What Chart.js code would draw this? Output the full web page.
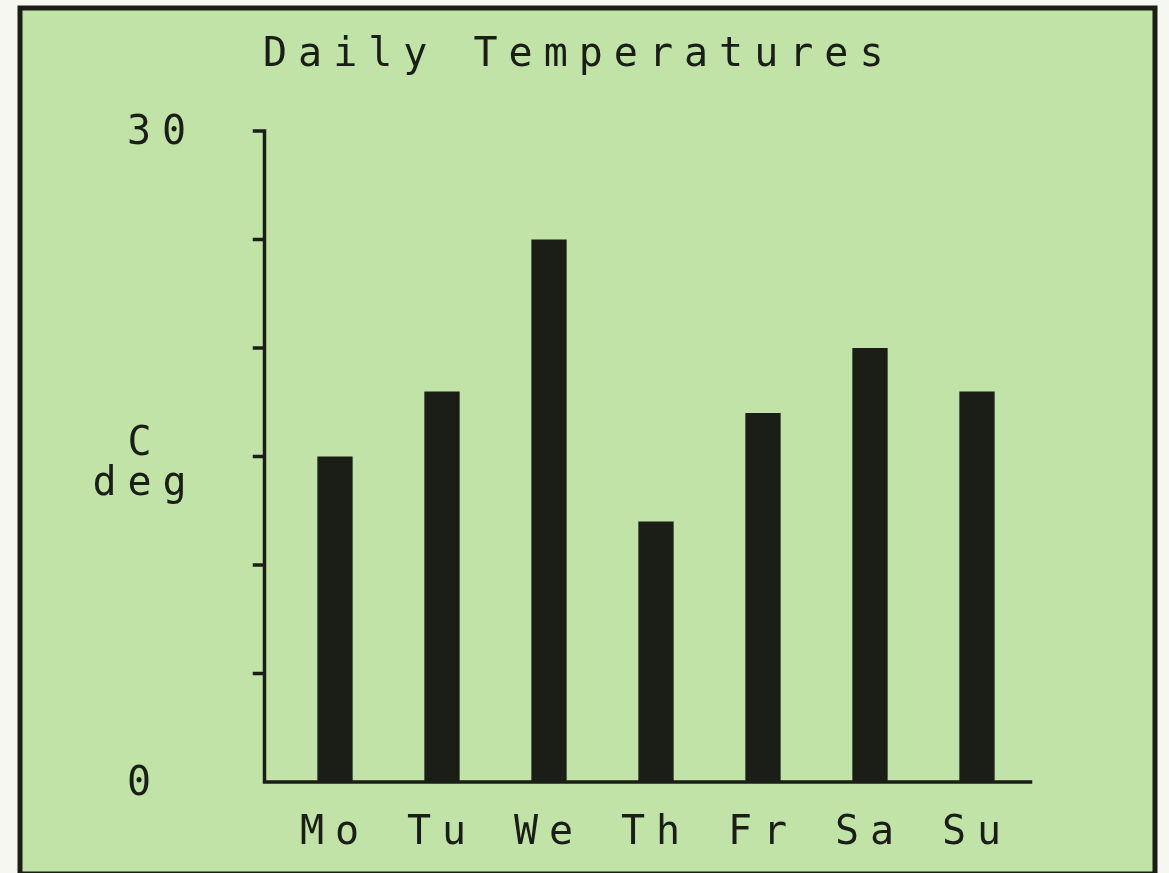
<!DOCTYPE html>
<html>
<head>
<meta charset="utf-8">
<title>Daily Temperatures</title>
<script src="https://cdn.jsdelivr.net/npm/chart.js@4/dist/chart.umd.min.js"></script>
<style>
  html, body { margin: 0; padding: 0; background: #f7f7f2; }
  canvas { display: block; }
</style>
</head>
<body>
<canvas id="tempChart" width="1169" height="873"></canvas>
<script>
// données
const days = ['Mo', 'Tu', 'We', 'Th', 'Fr', 'Sa', 'Su'];
const temps = [15, 18, 25, 12, 17, 20, 18];
const yTicks = [0, 5, 10, 15, 20, 25, 30];
const yLabelled = [0, 30];
const unitLines = ['C', 'deg'];

const INK = '#1a1e17';
const GREEN = '#c1e3a8';
const FONT = '"DejaVu Sans Mono", monospace';
const SPACING = '11px';

// cadre, axes et unité façon écran rétro
const retro = {
    id: 'retro',
    beforeLayout(chart) {
        chart.ctx.letterSpacing = SPACING;
    },
    beforeDraw(chart) {
        const ctx = chart.ctx;
        ctx.save();
        ctx.fillStyle = '#f7f7f2';
        ctx.fillRect(0, 0, chart.width, chart.height);
        ctx.fillStyle = GREEN;
        ctx.fillRect(20, 8, 1135, 866);
        ctx.lineWidth = 5;
        ctx.strokeStyle = INK;
        ctx.strokeRect(20, 8, 1135, 866);
        ctx.restore();
        ctx.letterSpacing = SPACING;
    },
    afterDatasetsDraw(chart) {
        const ctx = chart.ctx;
        const y = chart.scales.y;
        const area = chart.chartArea;
        const axisX = area.left - 17;
        const y0 = y.getPixelForValue(0);

        ctx.save();
        ctx.strokeStyle = INK;
        ctx.lineWidth = 3.5;
        ctx.lineCap = 'square';
        ctx.beginPath();
        ctx.moveTo(axisX, y.getPixelForValue(yTicks[yTicks.length - 1]));
        ctx.lineTo(axisX, y0);
        ctx.lineTo(area.right, y0);
        yTicks.filter(v => v > 0).forEach(v => {
            const py = y.getPixelForValue(v);
            ctx.moveTo(axisX - 10, py);
            ctx.lineTo(axisX, py);
        });
        ctx.stroke();

        ctx.letterSpacing = SPACING;
        ctx.fillStyle = INK;
        ctx.font = '40px ' + FONT;
        ctx.textAlign = 'center';
        ctx.textBaseline = 'alphabetic';
        const mid = y.getPixelForValue(15);
        ctx.fillText(unitLines[0], 145, mid - 2);
        ctx.fillText(unitLines[1], 145, mid + 38);
        ctx.restore();
    }
};

new Chart(document.getElementById('tempChart'), {
    type: 'bar',
    data: {
        labels: days,
        datasets: [{
            data: temps,
            backgroundColor: INK,
            borderWidth: 0,
            categoryPercentage: 1,
            barPercentage: 0.33
        }]
    },
    options: {
        responsive: false,
        animation: false,
        layout: {
            padding: { top: 10, left: 127, right: 138.5, bottom: 20 }
        },
        plugins: {
            legend: { display: false },
            tooltip: { enabled: false },
            title: {
                display: true,
                text: 'Daily Temperatures',
                color: INK,
                font: { family: FONT, size: 40, weight: 'normal', lineHeight: 1 },
                padding: { top: 26, bottom: 55 }
            }
        },
        scales: {
            x: {
                grid: { display: false, drawTicks: false },
                border: { display: false },
                afterFit(scale) { scale.height = 71; },
                ticks: {
                    color: INK,
                    padding: 32,
                    font: { family: FONT, size: 40, lineHeight: 1 }
                }
            },
            y: {
                min: 0,
                max: 30,
                grid: { display: false, drawTicks: false },
                border: { display: false },
                afterFit(scale) { scale.width = 154.5; },
                afterBuildTicks(scale) { scale.ticks = yTicks.map(v => ({ value: v })); },
                ticks: {
                    color: INK,
                    crossAlign: 'far',
                    labelOffset: 3,
                    font: { family: FONT, size: 40, lineHeight: 1 },
                    callback: v => yLabelled.includes(v) ? String(v) : ''
                }
            }
        }
    },
    plugins: [retro]
});
</script>
</body>
</html>
